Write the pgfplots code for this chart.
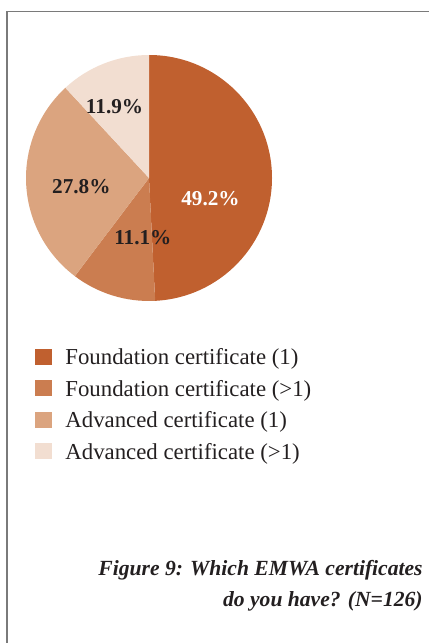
\documentclass[border=0pt]{standalone}
\usepackage{fontspec}
\setmainfont{Liberation Serif}
\usepackage{pgfplots}
\usepackage{pgfplotstable}
\pgfplotsset{compat=1.18}

\definecolor{c1}{HTML}{C0602F}
\definecolor{c2}{HTML}{CB7D50}
\definecolor{c3}{HTML}{DBA47F}
\definecolor{c4}{HTML}{F2DED1}
\definecolor{framegray}{HTML}{7A7A7A}
\definecolor{txt}{HTML}{231F20}

% share of respondents, clockwise from the top
\pgfplotstableread{
share
49.2
11.1
27.8
11.9
}\certdata
\pgfplotstablegetelem{0}{share}\of\certdata \let\sA\pgfplotsretval
\pgfplotstablegetelem{1}{share}\of\certdata \let\sB\pgfplotsretval
\pgfplotstablegetelem{2}{share}\of\certdata \let\sC\pgfplotsretval
\pgfplotstablegetelem{3}{share}\of\certdata \let\sD\pgfplotsretval
\pgfmathsetmacro\aA{90-3.6*\sA}
\pgfmathsetmacro\aB{\aA-3.6*\sB}
\pgfmathsetmacro\aC{\aB-3.6*\sC}
\pgfmathsetmacro\aD{\aC-3.6*\sD}

\begin{document}
\begin{tikzpicture}[x=0.5pt,y=0.5pt]
\useasboundingbox (0,0) rectangle (429,643);
% frame
\draw[framegray,line width=0.75pt] (7,0) -- (7,631.5) -- (429,631.5);

\begin{axis}[
  at={(74.5pt,232.5pt)}, anchor=center,
  width=123pt, height=123pt, scale only axis,
  xmin=-1, xmax=1, ymin=-1, ymax=1,
  hide axis, clip=false,
]
\fill[c1] (axis cs:0,0) -- (axis cs:0,1) arc[start angle=90, end angle=\aA, radius=61.5pt] -- cycle;
\fill[c2] (axis cs:0,0) -- (axis cs:{cos(\aA)},{sin(\aA)}) arc[start angle=\aA, end angle=\aB, radius=61.5pt] -- cycle;
\fill[c3] (axis cs:0,0) -- (axis cs:{cos(\aB)},{sin(\aB)}) arc[start angle=\aB, end angle=\aC, radius=61.5pt] -- cycle;
\fill[c4] (axis cs:0,0) -- (axis cs:{cos(\aC)},{sin(\aC)}) arc[start angle=\aC, end angle=\aD, radius=61.5pt] -- cycle;
\begin{scope}[font=\fontsize{10.6}{12}\selectfont\bfseries]
\node[white] at (axis cs:0.50,-0.17) {49.2\%};
\node[txt] at (axis cs:-0.05,-0.485) {11.1\%};
\node[txt] at (axis cs:-0.55,-0.07) {27.8\%};
\node[txt] at (axis cs:-0.28,0.58) {11.9\%};
\end{scope}
\end{axis}

% legend
\begin{scope}[font=\fontsize{11.4}{13}\selectfont, text=txt]
\fill[c1] (35,278) rectangle (52,294);
\node[anchor=base west,inner sep=0pt] at (65,278) {Foundation certificate (1)};
\fill[c2] (35,246.5) rectangle (52,262.5);
\node[anchor=base west,inner sep=0pt] at (65,246.5) {Foundation certificate (>1)};
\fill[c3] (35,215) rectangle (52,231);
\node[anchor=base west,inner sep=0pt] at (65,215) {Advanced certificate (1)};
\fill[c4] (35,183.5) rectangle (52,199.5);
\node[anchor=base west,inner sep=0pt] at (65,183.5) {Advanced certificate (>1)};
\end{scope}

% caption
\begin{scope}[font=\fontsize{10.8}{13}\selectfont\bfseries\itshape, text=txt]
\node[anchor=base east,inner sep=0pt] at (423,67) {Figure 9: Which EMWA certificates};
\node[anchor=base east,inner sep=0pt] at (423,36) {do you have? (N=126)};
\end{scope}
\end{tikzpicture}
\end{document}
